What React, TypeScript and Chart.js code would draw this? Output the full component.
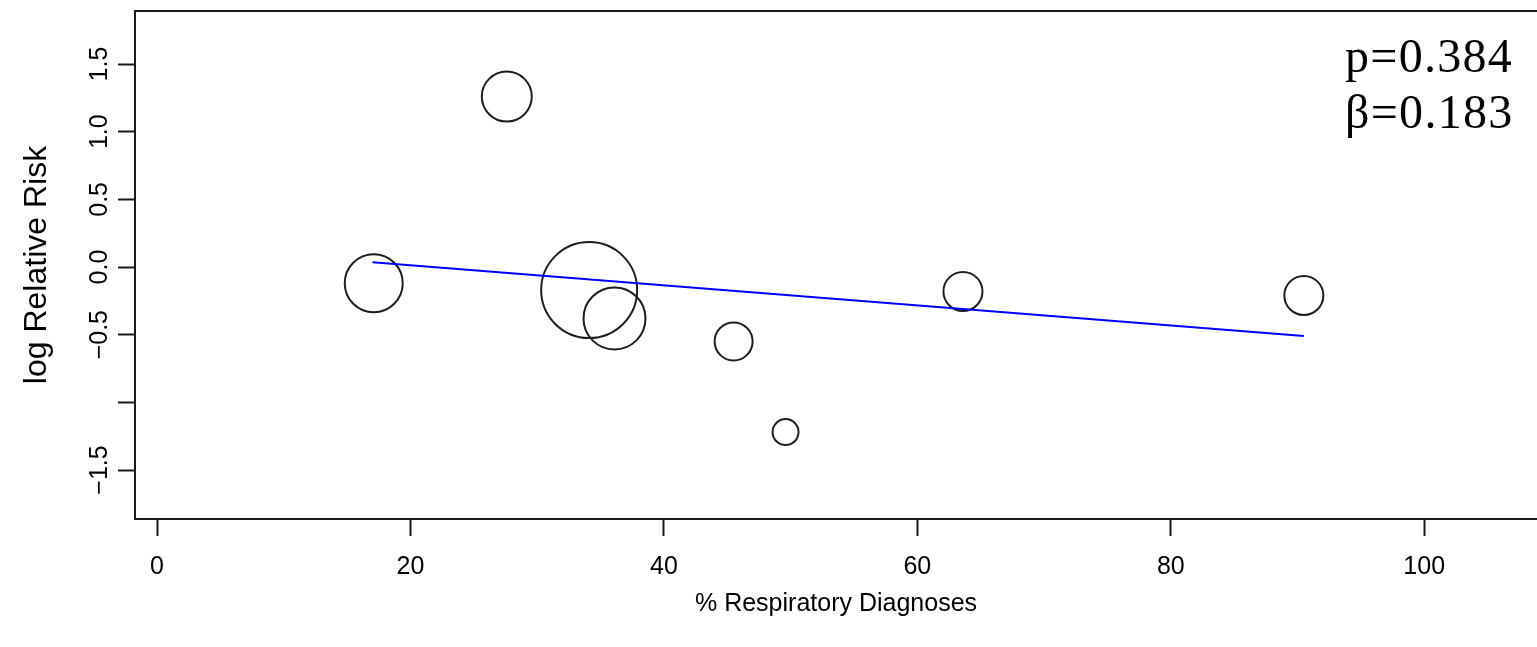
import React, { useEffect, useRef } from "react";
import { Chart, registerables } from "chart.js";

Chart.register(...registerables);

// ---- data ----
const studyX = [17.1, 27.6, 34.1, 36.1, 45.5, 49.6, 63.6, 90.5];
const studyLogRR = [-0.12, 1.26, -0.17, -0.38, -0.55, -1.22, -0.18, -0.21];
const studyBubbleRadius = [29, 25, 48, 31, 19, 13, 19.5, 19.5];

const fitX = [17.0, 90.5];
const fitY = [0.035, -0.51];

const xTickValues = [0, 20, 40, 60, 80, 100];
const xTickLabels = ["0", "20", "40", "60", "80", "100"];
const yTickValues = [-1.5, -1.0, -0.5, 0.0, 0.5, 1.0, 1.5];
const yTickLabels = ["\u22121.5", "", "\u22120.5", "0.0", "0.5", "1.0", "1.5"];

const xTitle = "% Respiratory Diagnoses";
const yTitle = "log Relative Risk";
const statLines = ["p=0.384", "\u03b2=0.183"];

const SANS = '"Liberation Sans", Arial, Helvetica, sans-serif';
const INK = "#1a1a1a";

const framePlugin = {
  id: "frameAndStats",
  afterDraw(chart: any) {
    const { ctx, chartArea } = chart;
    ctx.save();
    // top border of the plot box
    ctx.strokeStyle = INK;
    ctx.lineWidth = 2;
    ctx.beginPath();
    ctx.moveTo(chartArea.left - 1, chartArea.top);
    ctx.lineTo(chartArea.right, chartArea.top);
    ctx.stroke();
    // statistics text
    ctx.fillStyle = "#000";
    ctx.font = '48px "Liberation Serif", "Times New Roman", serif';
    (ctx as any).letterSpacing = "1.3px";
    ctx.textAlign = "left";
    ctx.textBaseline = "alphabetic";
    const x0 = chartArea.right - 192;
    ctx.fillText(statLines[0], x0, chartArea.top + 61);
    ctx.fillText(statLines[1], x0, chartArea.top + 117);
    ctx.restore();
  },
};

export default function App() {
  const canvasRef = useRef<HTMLCanvasElement | null>(null);

  useEffect(() => {
    if (!canvasRef.current) return;
    Chart.defaults.font.family = SANS;
    const bubbles = studyX.map((x, i) => ({ x, y: studyLogRR[i], r: studyBubbleRadius[i] }));
    const fit = fitX.map((x, i) => ({ x, y: fitY[i] }));

    const chart = new Chart(canvasRef.current, {
      type: "bubble",
      data: {
        datasets: [
          {
            type: "line",
            data: fit,
            borderColor: "#0000ff",
            borderWidth: 2,
            pointRadius: 0,
            fill: false,
            order: 0,
          } as any,
          {
            type: "bubble",
            data: bubbles,
            borderColor: "#1e1e1e",
            backgroundColor: "rgba(0,0,0,0)",
            borderWidth: 2,
            order: 1,
          } as any,
        ],
      },
      options: {
        responsive: false,
        animation: false,
        layout: { autoPadding: false, padding: { left: 0, right: 0, top: 11, bottom: 0 } },
        plugins: {
          legend: { display: false },
          tooltip: { enabled: false },
        },
        scales: {
          x: {
            type: "linear",
            bounds: "data",
            min: -1.74,
            max: 108.9,
            afterBuildTicks: (s: any) => {
              s.ticks = xTickValues.map((v) => ({ value: v }));
            },
            afterFit: (s: any) => {
              s.height = 128;
            },
            grid: {
              drawOnChartArea: false,
              drawTicks: true,
              tickLength: 17,
              tickColor: INK,
              tickWidth: 2,
            },
            border: { display: true, color: INK, width: 2 },
            ticks: {
              autoSkip: false,
              maxRotation: 0,
              minRotation: 0,
              padding: 16,
              color: "#000",
              font: { size: 25, family: SANS },
              callback: (_v: any, i: number) => xTickLabels[i],
            },
            title: {
              display: true,
              text: xTitle,
              color: "#000",
              font: { size: 25, family: SANS },
              padding: { top: 0, bottom: 28 },
            },
          },
          y: {
            type: "linear",
            bounds: "data",
            min: -1.862,
            max: 1.892,
            afterBuildTicks: (s: any) => {
              s.ticks = yTickValues.map((v) => ({ value: v }));
            },
            afterFit: (s: any) => {
              s.width = 135;
            },
            grid: {
              drawOnChartArea: false,
              drawTicks: true,
              tickLength: 17,
              tickColor: INK,
              tickWidth: 2,
            },
            border: { display: true, color: INK, width: 2 },
            ticks: {
              autoSkip: false,
              minRotation: 90,
              maxRotation: 90,
              crossAlign: "center",
              padding: -7,
              color: "#000",
              font: { size: 25, family: SANS },
              callback: (_v: any, i: number) => yTickLabels[i],
            },
            title: {
              display: true,
              text: yTitle,
              color: "#000",
              font: { size: 32, family: SANS },
              padding: { top: 18, bottom: 0 },
            },
          },
        },
      } as any,
      plugins: [framePlugin],
    });
    return () => chart.destroy();
  }, []);

  return (
    <div style={{ position: "absolute", left: 0, top: 0, width: 1537, height: 647, background: "#fff" }}>
      <canvas ref={canvasRef} width={1537} height={647} style={{ display: "block" }} />
    </div>
  );
}
